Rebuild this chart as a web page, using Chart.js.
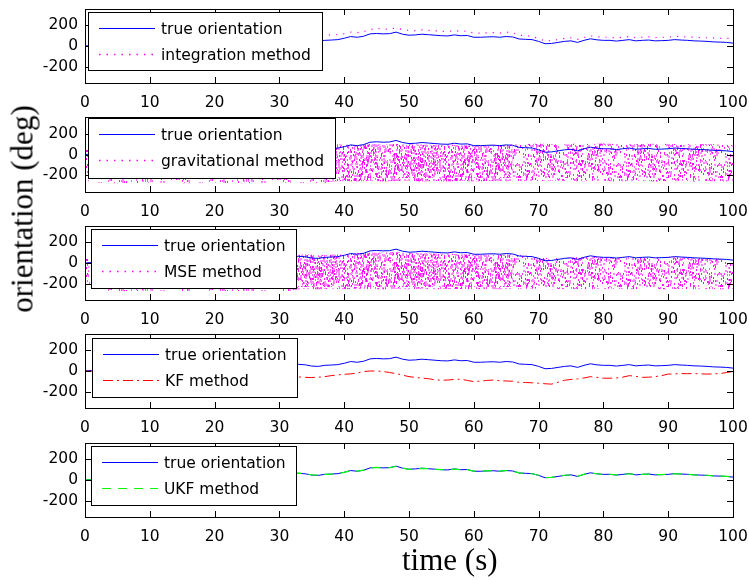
<!DOCTYPE html>
<html>
<head>
<meta charset="utf-8">
<script src="https://cdn.jsdelivr.net/npm/chart.js@4.4.1/dist/chart.umd.min.js"></script>
<style>
    body { margin: 0; background: #fff; }
    #fig { position: relative; width: 749px; height: 580px; overflow: hidden; background: #fff; }
    #fig canvas { position: absolute; left: 0; }
    .lbl { position: absolute; font-family: "Liberation Serif", "DejaVu Serif", serif; font-size: 31px; line-height: 31px; white-space: nowrap; color: #000; }
    #ylab { left: 22px; top: 209px; transform: translate(-50%, -50%) rotate(-90deg); }
    #xlab { left: 402px; top: 544px; }
</style>
</head>
<body>
<div id="fig">
    <canvas id="p1"></canvas>
    <canvas id="p2"></canvas>
    <canvas id="p3"></canvas>
    <canvas id="p4"></canvas>
    <canvas id="p5"></canvas>
    <div class="lbl" id="ylab">orientation (deg)</div>
    <div class="lbl" id="xlab">time (s)</div>
</div>
<script>
// time axis (s)
const time = [0, 1, 2, 3, 4, 5, 6, 7, 8, 9, 10, 11, 12, 13, 14, 15, 16, 17, 18, 19,
    20, 21, 22, 23, 24, 25, 26, 27, 28, 29, 30, 31, 32, 33, 34, 35, 36, 37, 38, 39,
    40, 41, 42, 43, 44, 45, 46, 47, 48, 49, 50, 51, 52, 53, 54, 55, 56, 57, 58, 59,
    60, 61, 62, 63, 64, 65, 66, 67, 68, 69, 70, 71, 72, 73, 74, 75, 76, 77, 78, 79,
    80, 81, 82, 83, 84, 85, 86, 87, 88, 89, 90, 91, 92, 93, 94, 95, 96, 97, 98, 99, 100];

const trueOrientation = [0, 5, 10, 15, 20, 25, 30, 30, 35, 40,
    40, 45, 45, 50, 50, 55, 55, 60, 60, 55,
    60, 60, 65, 60, 65, 60, 65, 60, 65, 60,
    65, 60, 65, 65, 60, 48, 45, 55, 58, 62,
    75, 92, 85, 95, 118, 122, 118, 120, 135, 115,
    105, 108, 115, 110, 105, 100, 98, 108, 100, 102,
    85, 85, 88, 90, 85, 92, 88, 68, 65, 62,
    45, 22, 25, 35, 45, 50, 35, 55, 70, 60,
    55, 55, 48, 55, 62, 50, 55, 58, 50, 52,
    55, 62, 58, 55, 50, 48, 45, 40, 38, 35, 28];

const integrationMethod = [0, 8, 15, 22, 28, 34, 40, 42, 48, 54,
    56, 62, 63, 70, 72, 78, 80, 86, 88, 84,
    90, 92, 98, 94, 100, 96, 102, 98, 104, 100,
    106, 102, 108, 108, 104, 94, 92, 105, 108, 110,
    120, 135, 130, 140, 160, 170, 165, 165, 175, 160,
    150, 150, 158, 152, 148, 142, 140, 150, 142, 145,
    125, 125, 128, 130, 125, 135, 130, 105, 100, 95,
    70, 50, 52, 62, 75, 80, 65, 82, 100, 90,
    85, 85, 78, 85, 92, 80, 85, 90, 82, 85,
    85, 95, 90, 88, 85, 82, 80, 76, 75, 74, 72];

const kfMethod = [0, -2, -5, -8, -10, -12, -15, -17, -20, -22,
    -25, -27, -28, -30, -32, -35, -36, -38, -40, -40,
    -42, -44, -45, -46, -48, -48, -50, -50, -52, -53,
    -55, -55, -57, -58, -62, -64, -60, -55, -45, -38,
    -32, -28, -20, -5, 0, 0, -5, -15, -25, -40,
    -55, -62, -70, -75, -85, -90, -88, -82, -80, -92,
    -103, -98, -92, -88, -95, -97, -100, -110, -112, -115,
    -119, -124, -128, -110, -90, -82, -77, -68, -55, -62,
    -70, -70, -68, -60, -45, -52, -62, -60, -55, -45,
    -30, -28, -25, -26, -25, -28, -30, -28, -25, -15, -5];

const ukfMethod = [0, 4, 10, 16, 20, 24, 30, 31, 35, 39,
    41, 45, 46, 50, 49, 55, 56, 60, 59, 55,
    61, 60, 64, 61, 65, 59, 65, 61, 64, 60,
    66, 60, 64, 66, 61, 50, 46, 54, 58, 63,
    74, 90, 86, 96, 116, 123, 119, 119, 133, 117,
    104, 107, 114, 111, 104, 101, 99, 106, 101, 101,
    86, 84, 88, 91, 86, 91, 87, 69, 66, 61,
    46, 24, 26, 34, 46, 49, 36, 54, 69, 61,
    54, 56, 49, 54, 61, 51, 54, 57, 51, 53,
    56, 61, 59, 56, 49, 47, 46, 41, 37, 36, 30];

// spread of the noisy gravitational estimate (upper / lower edge of the dot cloud)
const gravTime = [0, 0.5, 1, 5, 10, 15, 20, 25, 30, 35, 37,
    38, 40, 42, 44, 46, 48, 50, 52, 54, 56, 58, 60, 62, 64, 66, 68,
    70, 72, 74, 76, 78, 80, 82, 84, 86, 88, 90, 92, 94, 96, 98, 100];
const gravTop = [60, 40, -200, -200, -200, -200, -200, -200, -200, -200, -200,
    100, 95, 90, 100, 95, 100, 95, 95, 90, 95, 90, 85, 90, 90, 95, 100,
    105, 100, 95, 105, 100, 105, 100, 95, 100, 105, 100, 100, 95, 100, 95, 90];
const gravBottom = [-200, -260, -270, -275, -270, -275, -270, -275, -270, -275, -270,
    -260, -255, -258, -252, -258, -255, -252, -258, -255, -258, -252, -258, -255, -252, -258, -255,
    -255, -250, -252, -258, -255, -252, -258, -255, -250, -258, -255, -252, -258, -255, -258, -255];

// spread of the noisy MSE estimate
const mseTime = [0, 0.5, 1, 5, 10, 15, 20, 25, 30, 32, 33,
    34, 36, 38, 40, 42, 44, 46, 48, 50, 52, 54, 56, 58, 60, 62, 64, 66,
    68, 70, 72, 74, 76, 78, 80, 82, 84, 86, 88, 90, 92, 94, 96, 98, 100];
const mseTop = [80, 60, -200, -200, -200, -200, -200, -200, -200, -200, 80,
    85, 75, 80, 85, 95, 100, 100, 105, 95, 95, 90, 90, 85, 80, 80, 80, 85,
    70, 55, 45, 50, 55, 60, 55, 50, 55, 50, 50, 55, 55, 50, 45, 40, 35];
const mseBottom = [-180, -240, -270, -275, -270, -275, -270, -275, -270, -275, -255,
    -250, -255, -250, -255, -248, -252, -255, -250, -255, -248, -255, -250, -252, -255, -250, -255, -250,
    -250, -248, -255, -250, -252, -255, -250, -248, -255, -250, -252, -255, -250, -255, -250, -255, -250];

const xTicks = [0, 10, 20, 30, 40, 50, 60, 70, 80, 90, 100];
const yTicks = [-200, 0, 200];

const BLUE = '#0000ff', MAGENTA = '#ff00ff', RED = '#ff0000', GREEN = '#00ff00';
const TICK_FONT = { family: 'DejaVu Sans', size: 15.5 };
const PAD_TOP = 6, X_AXIS_H = 30;

function pts(xs, ys) {
    return xs.map((x, i) => ({ x: x, y: ys[i] }));
}

// speckle texture used to paint the noise clouds
function speckle(count, seed) {
    const c = document.createElement('canvas');
    c.width = 101; c.height = 67;
    const g = c.getContext('2d');
    const tones = ['#ff00ff', '#ff22ff', '#ff55ff', '#ff88ff'];
    let s = seed;
    const next = () => (s = (s * 16807) % 2147483647);
    for (let i = 0; i < count; i++) {
        const x = next() % 101, y = next() % 67;
        const k = next() % 4;
        g.fillStyle = tones[k];
        g.fillRect(x, y, k === 3 ? 2 : 1, 2);
    }
    return g.createPattern(c, 'repeat');
}

function band(xs, top, bottom, from, to, pattern) {
    const i0 = xs.indexOf(from), i1 = xs.indexOf(to) + 1;
    const sx = xs.slice(i0, i1);
    return [
        { data: pts(sx, top.slice(i0, i1)), fill: '+1', backgroundColor: pattern, borderColor: 'rgba(0,0,0,0)', borderWidth: 0, order: 2 },
        { data: pts(sx, bottom.slice(i0, i1)), fill: false, borderColor: 'rgba(0,0,0,0)', borderWidth: 0, order: 2 }
    ];
}

function line(label, ys, color, dash, width, order) {
    return { label: label, data: pts(time, ys), borderColor: color, borderDash: dash, borderWidth: width, fill: false, order: order };
}

function overlay(p, canvasTop) {
    return {
        id: 'overlay_' + p.id,
        afterDraw(chart) {
            const ctx = chart.ctx, a = chart.chartArea;
            const xs = chart.scales.x, ys = chart.scales.y;
            const L = Math.round(a.left), R = Math.round(a.right), T = Math.round(a.top), B = Math.round(a.bottom);
            ctx.save();
            ctx.strokeStyle = '#000';
            ctx.lineWidth = 1;
            ctx.setLineDash([]);
            ctx.beginPath();
            xTicks.forEach(v => {
                const x = Math.round(xs.getPixelForValue(v)) + 0.5;
                ctx.moveTo(x, B); ctx.lineTo(x, B - 6);
                ctx.moveTo(x, T); ctx.lineTo(x, T + 6);
            });
            yTicks.forEach(v => {
                const y = Math.round(ys.getPixelForValue(v)) + 0.5;
                ctx.moveTo(L, y); ctx.lineTo(L + 6, y);
                ctx.moveTo(R, y); ctx.lineTo(R - 6, y);
            });
            ctx.stroke();
            ctx.strokeRect(L + 0.5, T + 0.5, R - L, B - T);

            // boxed legend, top left like matlab's
            const lg = p.legend;
            const x0 = lg.x, y0 = lg.y - canvasTop;
            ctx.fillStyle = '#fff';
            ctx.fillRect(x0, y0, lg.w, lg.h);
            ctx.strokeRect(x0 + 0.5, y0 + 0.5, lg.w, lg.h);
            ctx.font = TICK_FONT.size + 'px "' + TICK_FONT.family + '"';
            ctx.textBaseline = 'middle';
            p.items.forEach((it, i) => {
                const y = Math.round(y0 + 16 + i * 25.5) + 0.5;
                ctx.setLineDash(it.dash);
                ctx.strokeStyle = it.color;
                ctx.lineWidth = it.width;
                ctx.beginPath();
                ctx.moveTo(x0 + 11, y);
                ctx.lineTo(x0 + 67, y);
                ctx.stroke();
                ctx.setLineDash([]);
                ctx.fillStyle = '#000';
                ctx.fillText(it.label, x0 + 73, y + 1);
            });
            ctx.restore();
        }
    };
}

function makePanel(p) {
    const cv = document.getElementById(p.id);
    const canvasTop = p.top - PAD_TOP;
    cv.width = 749;
    cv.height = (p.bottom - p.top) + PAD_TOP + X_AXIS_H;
    cv.style.top = canvasTop + 'px';
    new Chart(cv, {
        type: 'line',
        data: { datasets: p.datasets },
        options: {
            responsive: false,
            animation: false,
            devicePixelRatio: 1,
            layout: { padding: { top: PAD_TOP, right: 16, left: 0, bottom: 0 } },
            plugins: { legend: { display: false }, tooltip: { enabled: false } },
            elements: { point: { radius: 0 }, line: { tension: 0 } },
            scales: {
                x: {
                    type: 'linear', min: 0, max: 100,
                    grid: { display: false, drawTicks: false },
                    border: { display: false },
                    afterBuildTicks: s => { s.ticks = xTicks.map(v => ({ value: v })); },
                    afterFit: s => { s.height = X_AXIS_H; s.paddingLeft = 0; s.paddingRight = 0; },
                    ticks: { autoSkip: false, maxRotation: 0, minRotation: 0, padding: 11, color: '#000', font: TICK_FONT, callback: v => String(v) }
                },
                y: {
                    type: 'linear', min: -360, max: 360,
                    grid: { display: false, drawTicks: false },
                    border: { display: false },
                    afterBuildTicks: s => { s.ticks = yTicks.map(v => ({ value: v })); },
                    afterFit: s => { s.width = 85; s.paddingTop = 0; s.paddingBottom = 0; },
                    ticks: { padding: 7, color: '#000', font: TICK_FONT, callback: v => String(v) }
                }
            }
        },
        plugins: [overlay(p, canvasTop)]
    });
}

const dense = speckle(1800, 12345), medium = speckle(1100, 6789), light = speckle(500, 4242);
const trueItem = { label: 'true orientation', color: BLUE, dash: [], width: 1 };
const dotItem = label => ({ label: label, color: MAGENTA, dash: [1.5, 6], width: 1.5 });

const panels = [
    {
        id: 'p1', top: 9, bottom: 83, legend: { x: 88, y: 12, w: 234, h: 58 },
        items: [trueItem, { label: 'integration method', color: MAGENTA, dash: [1.5, 6], width: 1.5 }],
        datasets: [
            line('true orientation', trueOrientation, BLUE, [], 1, 1),
            line('integration method', integrationMethod, MAGENTA, [1.2, 6], 1.2, 0)
        ]
    },
    {
        id: 'p2', top: 117, bottom: 192, legend: { x: 88, y: 118, w: 247, h: 60 },
        items: [trueItem, dotItem('gravitational method')],
        datasets: [line('true orientation', trueOrientation, BLUE, [], 1, 0)]
            .concat(band(gravTime, gravTop, gravBottom, 0, 37, light))
            .concat(band(gravTime, gravTop, gravBottom, 37, 66, dense))
            .concat(band(gravTime, gravTop, gravBottom, 66, 100, medium))
    },
    {
        id: 'p3', top: 226, bottom: 300, legend: { x: 91, y: 229, w: 205, h: 59 },
        items: [trueItem, dotItem('MSE method')],
        datasets: [line('true orientation', trueOrientation, BLUE, [], 1, 0)]
            .concat(band(mseTime, mseTop, mseBottom, 0, 32, light))
            .concat(band(mseTime, mseTop, mseBottom, 32, 66, dense))
            .concat(band(mseTime, mseTop, mseBottom, 66, 100, medium))
    },
    {
        id: 'p4', top: 334, bottom: 408, legend: { x: 92, y: 338, w: 205, h: 59 },
        items: [trueItem, { label: 'KF method', color: RED, dash: [10, 4, 2, 4], width: 1 }],
        datasets: [
            line('true orientation', trueOrientation, BLUE, [], 1, 1),
            line('KF method', kfMethod, RED, [10, 4, 2, 4], 1, 0)
        ]
    },
    {
        id: 'p5', top: 443, bottom: 517, legend: { x: 91, y: 446, w: 205, h: 59 },
        items: [trueItem, { label: 'UKF method', color: GREEN, dash: [9, 7], width: 1.2 }],
        datasets: [
            line('true orientation', trueOrientation, BLUE, [], 1, 1),
            line('UKF method', ukfMethod, GREEN, [9, 7], 1.2, 0)
        ]
    }
];

panels.forEach(makePanel);
</script>
</body>
</html>
